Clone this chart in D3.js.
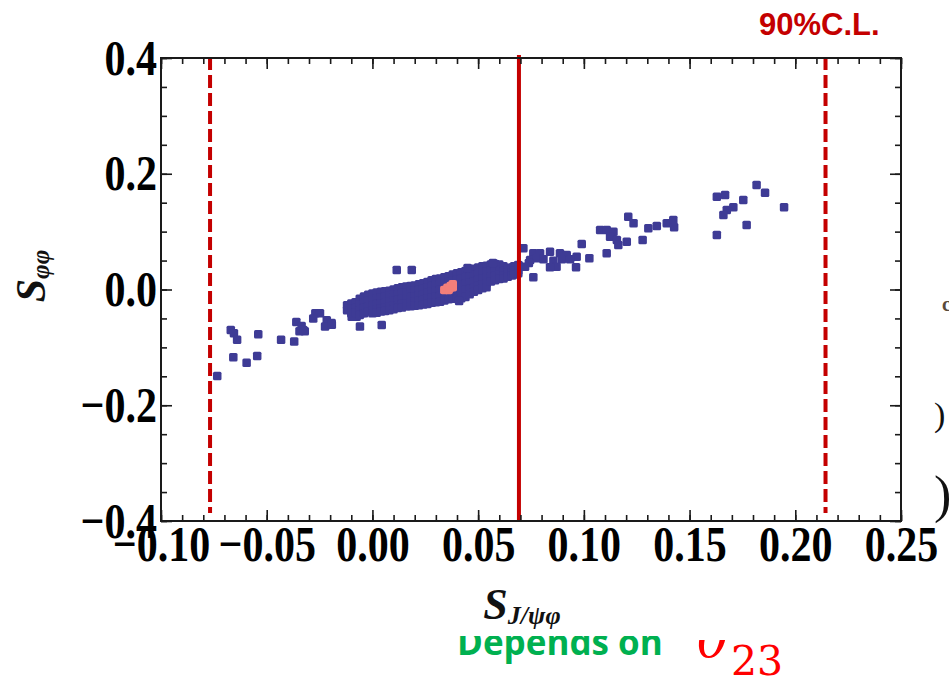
<!DOCTYPE html>
<html>
<head>
<meta charset="utf-8">
<script src="https://cdn.jsdelivr.net/npm/d3@7"></script>
<style>
  html, body { margin: 0; padding: 0; background: #ffffff; }
  svg { display: block; }
</style>
</head>
<body>
<svg id="chart" width="949" height="679"></svg>
<script>
// ---- data ----------------------------------------------------------
const xTicks = [-0.10, -0.05, 0.00, 0.05, 0.10, 0.15, 0.20, 0.25];
const yTicks = [-0.4, -0.2, 0.0, 0.2, 0.4];
const xDomain = [-0.10, 0.25];
const yDomain = [-0.4, 0.4];

// central value and 90% C.L. bounds of S_J/psi phi
const centralValue = 0.0693;
const clBounds = [-0.0768, 0.2143];

// scan points (S_J/psi phi, S_phi phi)
const scanSparseLeft = [
  [-0.0734, -0.1495], [-0.0658, -0.117], [-0.0595, -0.1265], [-0.0545, -0.115],
  [-0.067, -0.070], [-0.0655, -0.0757], [-0.064, -0.087], [-0.054, -0.0775],
  [-0.0432, -0.087], [-0.037, -0.090], [-0.036, -0.056], [-0.0335, -0.063],
  [-0.032, -0.072], [-0.0345, -0.072], [-0.0327, -0.070], [-0.027, -0.041],
  [-0.0248, -0.041], [-0.028, -0.050], [-0.0216, -0.053], [-0.0193, -0.058],
  [-0.0224, -0.064], [-0.0192, -0.061], [-0.0114, -0.027], [-0.009, -0.032],
  [-0.0098, -0.047], [-0.0059, -0.064], [-0.0051, -0.041], [-0.0075, -0.047]
];
const scanBand = [
  [-0.012, -0.027], [-0.012, -0.036],
  [-0.010, -0.024], [-0.010, -0.033], [-0.010, -0.041],
  [-0.008, -0.022], [-0.008, -0.032], [-0.008, -0.040],
  [-0.006, -0.016], [-0.006, -0.026], [-0.006, -0.036], [-0.006, -0.044],
  [-0.004, -0.012], [-0.004, -0.022], [-0.004, -0.032], [-0.004, -0.041],
  [-0.002, -0.009], [-0.002, -0.019], [-0.002, -0.029], [-0.002, -0.038],
  [0.000, -0.007], [0.000, -0.017], [0.000, -0.027], [0.000, -0.036], [0.000, -0.041],
  [0.002, -0.005], [0.002, -0.015], [0.002, -0.025], [0.002, -0.034], [0.002, -0.040],
  [0.004, -0.004], [0.004, -0.014], [0.004, -0.024], [0.004, -0.033], [0.004, -0.038],
  [0.006, -0.003], [0.006, -0.012], [0.006, -0.022], [0.006, -0.031], [0.006, -0.037],
  [0.008, -0.002], [0.008, -0.011], [0.008, -0.021], [0.008, -0.030], [0.008, -0.036],
  [0.010, 0.000], [0.010, -0.009], [0.010, -0.019], [0.010, -0.028], [0.010, -0.034],
  [0.012, 0.002], [0.012, -0.008], [0.012, -0.018], [0.012, -0.027], [0.012, -0.032],
  [0.014, 0.004], [0.014, -0.006], [0.014, -0.016], [0.014, -0.025], [0.014, -0.031],
  [0.016, 0.005], [0.016, -0.005], [0.016, -0.015], [0.016, -0.024], [0.016, -0.029],
  [0.018, 0.006], [0.018, -0.003], [0.018, -0.013], [0.018, -0.022], [0.018, -0.029],
  [0.020, 0.007], [0.020, -0.002], [0.020, -0.012], [0.020, -0.021], [0.020, -0.028],
  [0.022, 0.009], [0.022, -0.001], [0.022, -0.010], [0.022, -0.019], [0.022, -0.027],
  [0.024, 0.011], [0.024, 0.001], [0.024, -0.009], [0.024, -0.018], [0.024, -0.026],
  [0.026, 0.013], [0.026, 0.003], [0.026, -0.006], [0.026, -0.016], [0.026, -0.025],
  [0.028, 0.016], [0.028, 0.006], [0.028, -0.004], [0.028, -0.014], [0.028, -0.023],
  [0.030, 0.018], [0.030, 0.008], [0.030, -0.002], [0.030, -0.012], [0.030, -0.022],
  [0.032, 0.019], [0.032, 0.009], [0.032, -0.001], [0.032, -0.011], [0.032, -0.021],
  [0.034, 0.021], [0.034, 0.011], [0.034, 0.001], [0.034, -0.009], [0.034, -0.019],
  [0.036, 0.023], [0.036, 0.013], [0.036, 0.003], [0.036, -0.008], [0.036, -0.017],
  [0.038, 0.026], [0.038, 0.015], [0.038, 0.005], [0.038, -0.006], [0.038, -0.016],
  [0.040, 0.028], [0.040, 0.017], [0.040, 0.006], [0.040, -0.005], [0.040, -0.016],
  [0.042, 0.030], [0.042, 0.019], [0.042, 0.008], [0.042, -0.003], [0.042, -0.015],
  [0.044, 0.032], [0.044, 0.021], [0.044, 0.010], [0.044, -0.001], [0.044, -0.013],
  [0.046, 0.034], [0.046, 0.023], [0.046, 0.012], [0.046, 0.001], [0.046, -0.008],
  [0.048, 0.036], [0.048, 0.025], [0.048, 0.014], [0.048, 0.003], [0.048, -0.004],
  [0.050, 0.038], [0.050, 0.028], [0.050, 0.017], [0.050, 0.006], [0.050, -0.001],
  [0.052, 0.040], [0.052, 0.030], [0.052, 0.019], [0.052, 0.008], [0.052, 0.002],
  [0.054, 0.041], [0.054, 0.031], [0.054, 0.021], [0.054, 0.011], [0.054, 0.004],
  [0.056, 0.043], [0.056, 0.033], [0.056, 0.023], [0.056, 0.014],
  [0.058, 0.044], [0.058, 0.034], [0.058, 0.024], [0.058, 0.016],
  [0.060, 0.043], [0.060, 0.034], [0.060, 0.026], [0.060, 0.018],
  [0.062, 0.040], [0.062, 0.032], [0.062, 0.024], [0.062, 0.019],
  [0.064, 0.037], [0.064, 0.030], [0.064, 0.022],
  [0.066, 0.038], [0.066, 0.030], [0.066, 0.024],
  [0.067, 0.040], [0.067, 0.032], [0.067, 0.026],
  [0.069, 0.042], [0.069, 0.033], [0.069, 0.028],
  [0.045, 0.037], [0.057, 0.046], [0.041, -0.020],
  [0.0115, 0.0337], [0.0186, 0.0337], [0.0044, -0.0613]
];
const scanSparseRight = [
  [0.0714, 0.0712],
  [0.0761, 0.0625], [0.0793, 0.0625], [0.084, 0.0653], [0.0887, 0.0625], [0.0919, 0.0596], [0.0966, 0.0567],
  [0.0746, 0.051], [0.0777, 0.0539], [0.0809, 0.0522], [0.0856, 0.0498], [0.0896, 0.0522], [0.0935, 0.0522],
  [0.0871, 0.0394], [0.084, 0.0384], [0.0963, 0.0384], [0.074, 0.046],
  [0.0761, 0.021], [0.0722, 0.0394], [0.069, 0.0423],
  [0.099, 0.0786], [0.1026, 0.0539], [0.1108, 0.0625],
  [0.1077, 0.1028], [0.1108, 0.1028], [0.114, 0.0999], [0.1124, 0.0912], [0.1156, 0.0855],
  [0.1163, 0.0769], [0.1203, 0.0826],
  [0.121, 0.1258], [0.1235, 0.1144], [0.1278, 0.0855], [0.1305, 0.1057], [0.1345, 0.1097],
  [0.1392, 0.1144], [0.1423, 0.12], [0.1427, 0.1075],
  [0.1629, 0.1604], [0.1668, 0.1633], [0.1707, 0.142], [0.1676, 0.1374], [0.166, 0.1287],
  [0.1754, 0.1546], [0.177, 0.1114], [0.1817, 0.1806], [0.1857, 0.1673], [0.1629, 0.0942],
  [0.1947, 0.142]
];
// best-fit region
const scanBest = [
  [0.034, -0.001], [0.0355, 0.003], [0.037, 0.006], [0.038, 0.009],
  [0.036, -0.001], [0.038, 0.004], [0.0365, 0.002]
];

// ---- layout --------------------------------------------------------
const svg = d3.select("#chart");
const x = d3.scaleLinear().domain(xDomain).range([161, 901]);
const y = d3.scaleLinear().domain(yDomain).range([521, 58]);

const serif = "'Liberation Serif', 'Times New Roman', serif";
const sans = "'Open Sans', 'Liberation Sans', sans-serif";
const blue = "#3e3b95";
const pink = "#f47f7a";
const red = "#c40000";

// points
const plot = svg.append("g");
const allBlue = scanSparseLeft.concat(scanBand, scanSparseRight);
const ms = 8.5;
plot.selectAll("rect.blue").data(allBlue).join("rect")
  .attr("class", "blue")
  .attr("x", d => x(d[0]) - ms / 2).attr("y", d => y(d[1]) - ms / 2)
  .attr("width", ms).attr("height", ms).attr("rx", 1.5)
  .attr("fill", blue);
plot.selectAll("rect.best").data(scanBest).join("rect")
  .attr("class", "best")
  .attr("x", d => x(d[0]) - ms / 2).attr("y", d => y(d[1]) - ms / 2)
  .attr("width", ms).attr("height", ms).attr("rx", 2)
  .attr("fill", pink);

// central value and C.L. bounds
svg.append("line")
  .attr("x1", x(centralValue)).attr("x2", x(centralValue))
  .attr("y1", y(0.4) - 3).attr("y2", y(-0.4))
  .attr("stroke", red).attr("stroke-width", 4);
svg.selectAll("line.cl").data(clBounds).join("line")
  .attr("class", "cl")
  .attr("x1", d => x(d)).attr("x2", d => x(d))
  .attr("y1", y(0.4) - 1).attr("y2", y(-0.4) - 8)
  .attr("stroke", red).attr("stroke-width", 4)
  .attr("stroke-dasharray", "13,5");

// frame
svg.append("rect")
  .attr("x", x(-0.10)).attr("y", y(0.4))
  .attr("width", x(0.25) - x(-0.10)).attr("height", y(-0.4) - y(0.4))
  .attr("fill", "none").attr("stroke", "#1a1a1a").attr("stroke-width", 2);

function styleAxis(g, labels) {
  g.select(".domain").remove();
  g.selectAll(".tick line").attr("stroke", "#1a1a1a").attr("stroke-width", 1.6);
  if (labels) {
    g.attr("font-family", serif).attr("font-size", 42).attr("font-weight", "bold");
  }
}

// major + minor ticks on all four sides, pointing inward
const xMinor = x.ticks(35);
const yMinor = y.ticks(16);
const bottomY = y(-0.4), topY = y(0.4), leftX = x(-0.10), rightX = x(0.25);

svg.append("g").attr("transform", `translate(0,${bottomY})`)
  .call(d3.axisBottom(x).tickValues(xMinor).tickSizeInner(-6).tickSizeOuter(0).tickFormat(""))
  .call(g => styleAxis(g, false));
svg.append("g").attr("transform", `translate(0,${bottomY})`)
  .call(d3.axisBottom(x).tickValues(xTicks).tickSizeInner(-11).tickSizeOuter(0)
    .tickPadding(7).tickFormat(d3.format(".2f")))
  .call(g => styleAxis(g, true))
  .call(g => g.selectAll(".tick text")
    .attr("y", null).attr("dy", null)
    .attr("transform", "translate(0,40) scale(1,1.2)"));
svg.append("g").attr("transform", `translate(0,${topY})`)
  .call(d3.axisTop(x).tickValues(xMinor).tickSizeInner(-6).tickSizeOuter(0).tickFormat(""))
  .call(g => styleAxis(g, false));
svg.append("g").attr("transform", `translate(0,${topY})`)
  .call(d3.axisTop(x).tickValues(xTicks).tickSizeInner(-11).tickSizeOuter(0).tickFormat(""))
  .call(g => styleAxis(g, false));

svg.append("g").attr("transform", `translate(${leftX},0)`)
  .call(d3.axisLeft(y).tickValues(yMinor).tickSizeInner(-6).tickSizeOuter(0).tickFormat(""))
  .call(g => styleAxis(g, false));
svg.append("g").attr("transform", `translate(${leftX},0)`)
  .call(d3.axisLeft(y).tickValues(yTicks).tickSizeInner(-11).tickSizeOuter(0)
    .tickPadding(4).tickFormat(d3.format(".1f")))
  .call(g => styleAxis(g, true))
  .call(g => g.selectAll(".tick text")
    .attr("dy", null)
    .attr("transform", "translate(0,16) scale(1,1.2)"));
svg.append("g").attr("transform", `translate(${rightX},0)`)
  .call(d3.axisRight(y).tickValues(yMinor).tickSizeInner(-6).tickSizeOuter(0).tickFormat(""))
  .call(g => styleAxis(g, false));
svg.append("g").attr("transform", `translate(${rightX},0)`)
  .call(d3.axisRight(y).tickValues(yTicks).tickSizeInner(-11).tickSizeOuter(0).tickFormat(""))
  .call(g => styleAxis(g, false));

// axis titles
const yTitle = svg.append("text")
  .attr("transform", "translate(45,276) rotate(-90)")
  .attr("text-anchor", "middle")
  .attr("font-family", serif).attr("font-weight", "bold").attr("font-style", "italic")
  .attr("fill", "#111");
yTitle.append("tspan").attr("font-size", 42).text("S");
yTitle.append("tspan").attr("font-size", 25).attr("dy", 4).text("φφ");

const xTitle = svg.append("text")
  .attr("x", 522).attr("y", 619)
  .attr("text-anchor", "middle")
  .attr("font-family", serif).attr("font-weight", "bold").attr("font-style", "italic")
  .attr("fill", "#111");
xTitle.append("tspan").attr("font-size", 44).text("S");
xTitle.append("tspan").attr("font-size", 26).attr("dy", 5).text("J/ψφ");

// annotation
svg.append("text")
  .attr("x", 759).attr("y", 35)
  .attr("font-family", "'Liberation Sans', Arial, sans-serif").attr("font-weight", "bold")
  .attr("font-size", 31).attr("fill", red)
  .text("90%C.L.");

// note below the plot, partly hidden under the figure edge
const defs = svg.append("defs");
defs.append("clipPath").attr("id", "noteClipText")
  .append("rect").attr("x", 0).attr("y", 636).attr("width", 949).attr("height", 43);
defs.append("clipPath").attr("id", "noteClipMath")
  .append("rect").attr("x", 0).attr("y", 640).attr("width", 949).attr("height", 39);
svg.append("text")
  .attr("clip-path", "url(#noteClipText)")
  .attr("x", 457).attr("y", 655)
  .attr("font-family", sans).attr("font-weight", "bold").attr("font-size", 35)
  .attr("fill", "#00b050")
  .text("Depends on");
const math = svg.append("g").attr("clip-path", "url(#noteClipMath)");
math.append("text")
  .attr("x", 697).attr("y", 657)
  .attr("font-family", "'DejaVu Serif', serif").attr("font-style", "italic").attr("font-size", 52)
  .attr("fill", "#ff0000")
  .text("θ");
math.append("text")
  .attr("x", 731).attr("y", 675)
  .attr("font-family", "'DejaVu Serif', serif").attr("font-size", 41)
  .attr("fill", "#ff0000")
  .text("23");

// glyph fragments cut by the right edge
svg.append("text").attr("x", 934).attr("y", 426)
  .attr("font-family", serif).attr("font-size", 34).attr("fill", "#111").text(")");
svg.append("text").attr("x", 934).attr("y", 512)
  .attr("font-family", serif).attr("font-size", 52).attr("fill", "#111").text(")");
svg.append("text").attr("x", 942).attr("y", 311)
  .attr("font-family", serif).attr("font-weight", "bold").attr("font-size", 20).attr("fill", "#5a4a3a").text("c");
</script>
</body>
</html>
